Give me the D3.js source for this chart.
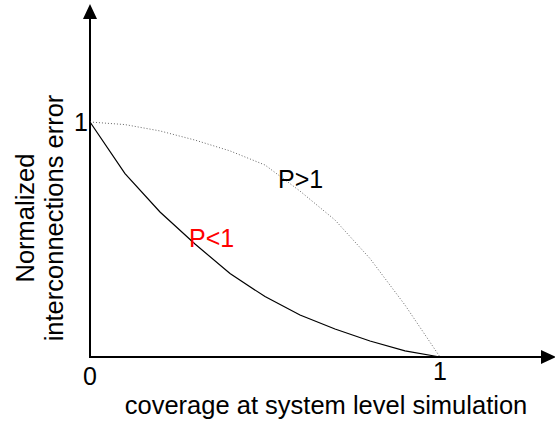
<!DOCTYPE html>
<html>
<head>
<meta charset="utf-8">
<script src="https://cdn.jsdelivr.net/npm/d3@7"></script>
<style>
  body { margin: 0; background: #fff; }
  svg { display: block; font-family: 'Liberation Sans', Arial, sans-serif; }
</style>
</head>
<body>
<div id="chart"></div>
<script>
// coverage (x) in steps
const coverage = [0, 0.1, 0.2, 0.3, 0.4, 0.5, 0.6, 0.7, 0.8, 0.9, 1]
// normalized interconnections error, P<1 (solid) and P>1 (dotted)
const errLow = [1, 0.78, 0.617, 0.481, 0.355, 0.257, 0.179, 0.119, 0.068, 0.026, 0]
const errHigh = [1, 0.989, 0.962, 0.923, 0.877, 0.817, 0.706, 0.583, 0.419, 0.221, 0]
const tickLabels = ['0', '1']

const width = 555
const height = 423
const origin = { x: 90, y: 357 }

const svg = d3.select('#chart')
  .append('svg')
  .attr('width', width)
  .attr('height', height)

const xScale = d3.scaleLinear().domain([0, 1]).range([origin.x, 440])
const yScale = d3.scaleLinear().domain([0, 1]).range([origin.y, 122])

// axes with arrow heads
svg.append('line')
  .attr('x1', origin.x).attr('y1', origin.y)
  .attr('x2', origin.x).attr('y2', 16)
  .attr('stroke', '#000').attr('stroke-width', 2)
svg.append('path')
  .attr('d', `M${origin.x - 7},19 L${origin.x},4 L${origin.x + 7},19 Z`)
  .attr('fill', '#000')

svg.append('line')
  .attr('x1', origin.x - 1).attr('y1', origin.y)
  .attr('x2', 545).attr('y2', origin.y)
  .attr('stroke', '#000').attr('stroke-width', 2)
svg.append('path')
  .attr('d', `M541,${origin.y - 7} L556,${origin.y} L541,${origin.y + 7} Z`)
  .attr('fill', '#000')

const line = d3.line()
  .x((d, i) => xScale(coverage[i]))
  .y(d => yScale(d))

svg.append('path')
  .datum(errHigh)
  .attr('d', line)
  .attr('fill', 'none')
  .attr('stroke', '#666')
  .attr('stroke-width', 1)
  .attr('stroke-dasharray', '1,2')

svg.append('path')
  .datum(errLow)
  .attr('d', line)
  .attr('fill', 'none')
  .attr('stroke', '#000')
  .attr('stroke-width', 1.2)

// tick labels
svg.append('text')
  .attr('x', xScale(0)).attr('y', 385)
  .attr('text-anchor', 'middle')
  .attr('font-size', 25)
  .text(tickLabels[0])
svg.append('text')
  .attr('x', xScale(1)).attr('y', 380)
  .attr('text-anchor', 'middle')
  .attr('font-size', 25)
  .text(tickLabels[1])
svg.append('text')
  .attr('x', 88).attr('y', yScale(1) + 9)
  .attr('text-anchor', 'end')
  .attr('font-size', 25)
  .text(tickLabels[1])

// curve labels
svg.append('text')
  .attr('x', 278).attr('y', 188)
  .attr('font-size', 25)
  .attr('fill', '#000')
  .text('P>1')
svg.append('text')
  .attr('x', 189).attr('y', 247)
  .attr('font-size', 25)
  .attr('fill', '#ff0000')
  .text('P<1')

// axis titles
svg.append('text')
  .attr('x', 326).attr('y', 414)
  .attr('text-anchor', 'middle')
  .attr('font-size', 25.5)
  .text('coverage at system level simulation')

const yTitle = svg.append('text')
  .attr('transform', 'translate(0,218) rotate(-90)')
  .attr('text-anchor', 'middle')
  .attr('font-size', 25.5)
yTitle.append('tspan').attr('x', 0).attr('y', 34).text('Normalized')
yTitle.append('tspan').attr('x', 0).attr('y', 63).text('interconnections error')
</script>
</body>
</html>
